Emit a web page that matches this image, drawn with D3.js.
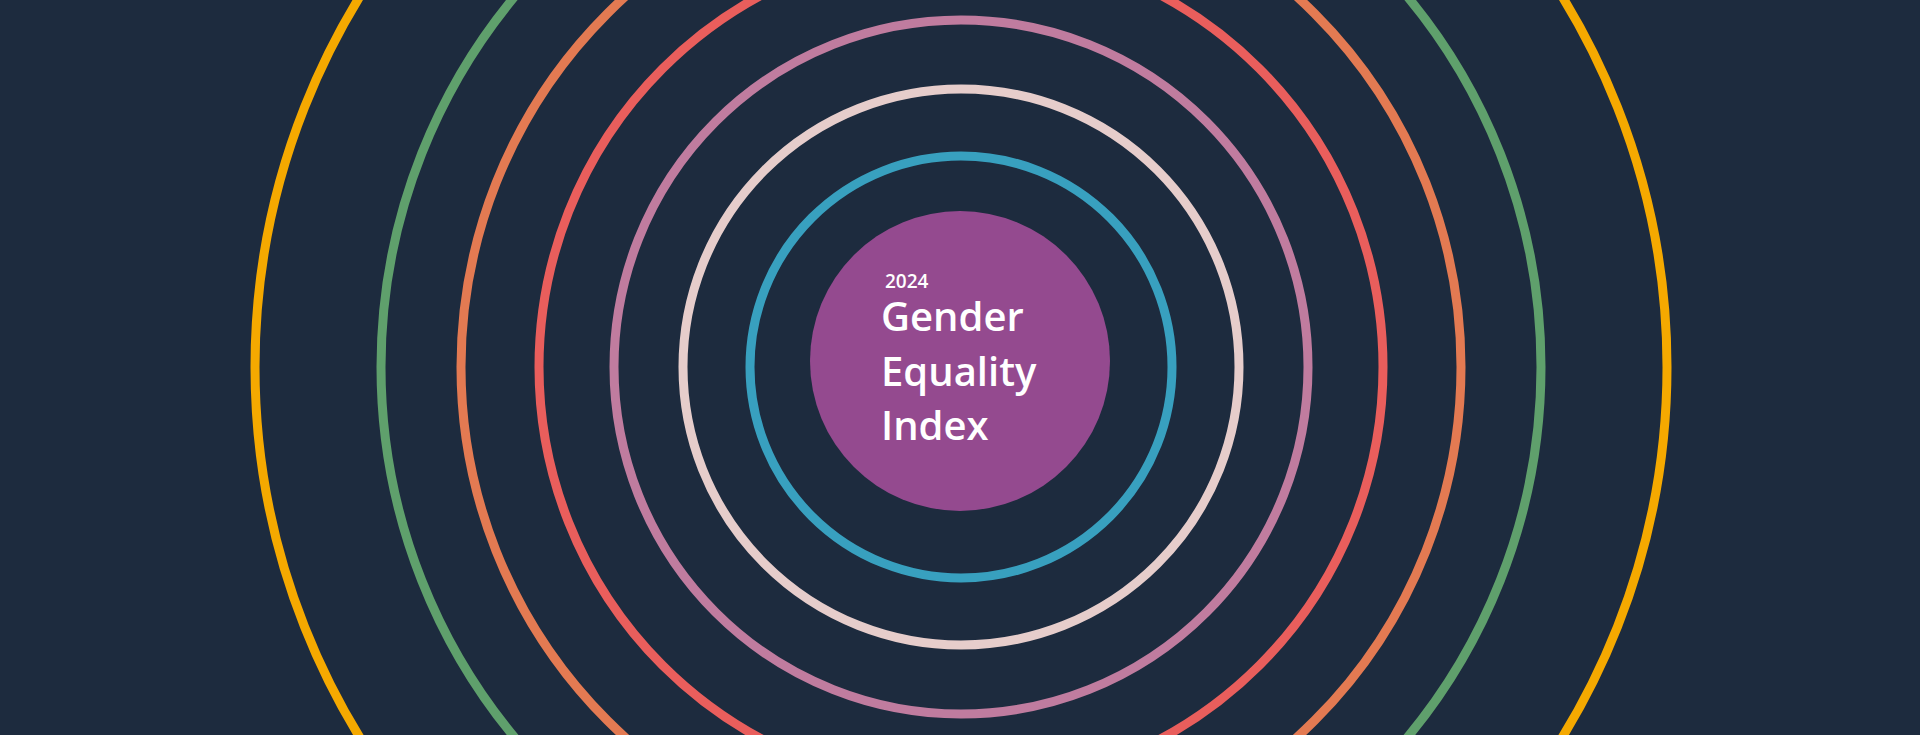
<html>
  <head>
    <meta charset="utf-8" />
    <script src="https://d3js.org/d3.v7.min.js"></script>
    <style>
      html, body { margin: 0; padding: 0; background: #1d2b3e; overflow: hidden; }
    </style>
  </head>
  <body>
    <div id="figure"></div>
    <script type="text/javascript">
      // rings, outermost first
      var ringNames = ["yellow", "green", "orange", "red", "pink", "light", "blue"];
      var ringRadius = [706, 580, 500, 422, 347, 278, 211];
      var ringColors = ["#f5a900", "#5fa06c", "#e37a52", "#e95e5c", "#c07c9f", "#e6cdcb", "#38a0bf"];

      var titleLines = ["Gender", "Equality", "Index"];
      var yearLabel = "2024";

      var width = 1920;
      var height = 735;
      var cx = 961, cy = 367;

      var svg = d3
        .select("#figure")
        .append("svg")
        .attr("width", width)
        .attr("height", height);

      svg.append("rect")
        .attr("width", width)
        .attr("height", height)
        .attr("fill", "#1d2b3e");

      var r = d3.scaleLinear().domain([0, 706]).range([0, 706]);

      svg.selectAll("circle.ring")
        .data(ringNames)
        .enter()
        .append("circle")
        .attr("class", "ring")
        .attr("cx", cx)
        .attr("cy", cy)
        .attr("r", function (d, i) { return r(ringRadius[i]); })
        .attr("fill", "none")
        .attr("stroke", function (d, i) { return ringColors[i]; })
        .attr("stroke-width", 9);

      svg.append("circle")
        .attr("cx", 960)
        .attr("cy", 361)
        .attr("r", r(150))
        .attr("fill", "#944a8f");

      var label = svg.append("g").attr("font-family", "'Open Sans', sans-serif").attr("fill", "#fff");

      label.append("text")
        .attr("x", 885)
        .attr("y", 288)
        .attr("font-size", 19)
        .attr("font-weight", 600)
        .text(yearLabel);

      label.selectAll("text.title")
        .data(titleLines)
        .enter()
        .append("text")
        .attr("class", "title")
        .attr("x", 881)
        .attr("y", function (d, i) { return 331 + i * 54.5; })
        .attr("font-size", 40)
        .attr("font-weight", 600)
        .text(function (d) { return d; });
    </script>
  </body>
</html>
